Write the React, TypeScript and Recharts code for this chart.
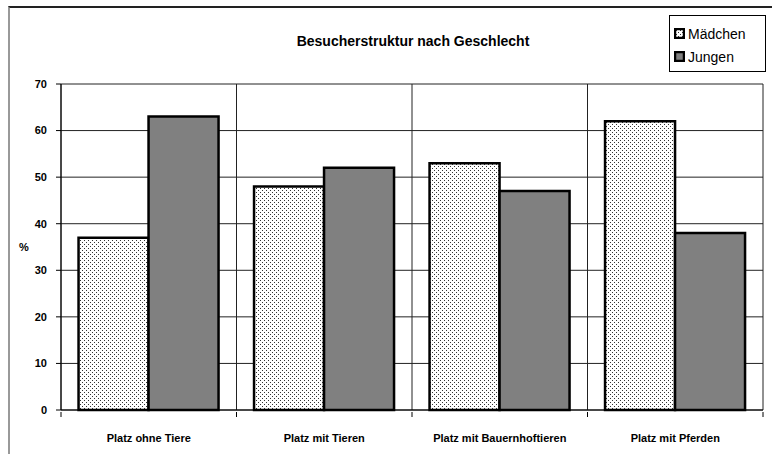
import React from 'react'
import { BarChart, Bar, XAxis, YAxis, CartesianGrid } from 'recharts'

const categories = ['Platz ohne Tiere', 'Platz mit Tieren', 'Platz mit Bauernhoftieren', 'Platz mit Pferden']
const maedchen = [37, 48, 53, 62]
const jungen = [63, 52, 47, 38]
const yTicks = [0, 10, 20, 30, 40, 50, 60, 70]

const data = categories.map((name, i) => ({
  name,
  maedchen: maedchen[i],
  jungen: jungen[i],
}))

const FONT = 'Arial, "Liberation Sans", sans-serif'

// category label plus the small tick marks on the category borders (Excel style)
const CategoryTick = (props: any) => {
  const { x, y, width, payload, index } = props
  const band = width / categories.length
  const left = x - band / 2
  const right = x + band / 2
  return (
    <g>
      <line x1={left} x2={left} y1={y} y2={y + 5} stroke="#000" />
      {index === categories.length - 1 && <line x1={right} x2={right} y1={y} y2={y + 5} stroke="#000" />}
      <text
        x={x}
        y={y + 30}
        textAnchor="middle"
        fontSize={11}
        fontWeight="bold"
        fontFamily={FONT}
        fill="#000"
      >
        {payload.value}
      </text>
    </g>
  )
}

// legend in a little framed box, top right
const LegendBox = () => (
  <div
    style={{
      position: 'absolute',
      left: 669,
      top: 15,
      border: '1px solid #000',
      background: '#fff',
      width: 97,
      height: 57,
      boxSizing: 'border-box',
      fontFamily: FONT,
      fontSize: 14,
      color: '#000',
      padding: '6px 0 0 4px',
    }}
  >
    {[
      { label: 'Mädchen', fill: 'url(#dots)' },
      { label: 'Jungen', fill: '#808080' },
    ].map((item) => (
      <div key={item.label} style={{ display: 'flex', alignItems: 'center', height: 23 }}>
        <svg width={11} height={11} style={{ marginRight: 3 }}>
          <rect x={1} y={1} width={9} height={9} fill={item.fill} stroke="#000" strokeWidth={2.5} />
        </svg>
        <span>{item.label}</span>
      </div>
    ))}
  </div>
)

export default function App() {
  return (
    <div style={{ position: 'absolute', left: 0, top: 0, width: 772, height: 454, overflow: 'hidden', background: '#fff' }}>
      {/* outer chart frame, only top and left are visible */}
      <div
        style={{
          position: 'absolute',
          left: 8,
          top: 6,
          width: 900,
          height: 600,
          borderTop: '2px solid #222',
          borderLeft: '2px solid #999',
        }}
      />
      <div
        style={{
          position: 'absolute',
          left: 0,
          top: 33,
          width: 826,
          textAlign: 'center',
          fontFamily: FONT,
          fontWeight: 'bold',
          fontSize: 14,
          color: '#000',
        }}
      >
        Besucherstruktur nach Geschlecht
      </div>
      <div style={{ position: 'absolute', left: 0, top: 0 }}>
        <BarChart
          width={772}
          height={454}
          data={data}
          margin={{ top: 84, right: 9, bottom: 0, left: 0 }}
          barCategoryGap="10%"
          barGap={0}
        >
          <defs>
            <pattern id="dots" width={4} height={4} patternUnits="userSpaceOnUse">
              <rect width={4} height={4} fill="#fff" />
              <rect x={0} y={0} width={1} height={1} fill="#333" />
              <rect x={2} y={2} width={1} height={1} fill="#333" />
            </pattern>
          </defs>
          <CartesianGrid
            stroke="#222"
            strokeWidth={1}
            verticalCoordinatesGenerator={({ offset }: any) =>
              [0, 1, 2, 3, 4].map((i) => offset.left + (i * offset.width) / categories.length)
            }
          />
          <XAxis
            dataKey="name"
            height={44}
            axisLine={{ stroke: '#000', strokeWidth: 1 }}
            tickLine={false}
            tickSize={0}
            interval={0}
            tick={<CategoryTick />}
          />
          <YAxis
            width={61}
            domain={[0, 70]}
            ticks={yTicks}
            tickSize={5}
            tickMargin={9}
            axisLine={{ stroke: '#000', strokeWidth: 1 }}
            tickLine={{ stroke: '#000' }}
            tick={{ fontSize: 11, fontWeight: 'bold', fill: '#000', fontFamily: FONT }}
            label={{
              value: '%',
              position: 'insideLeft',
              offset: 19,
              style: { fontSize: 11, fontWeight: 'bold', fill: '#000', fontFamily: FONT },
            }}
          />
          <Bar dataKey="maedchen" name="Mädchen" fill="url(#dots)" stroke="#000" strokeWidth={2.5} isAnimationActive={false} />
          <Bar dataKey="jungen" name="Jungen" fill="#808080" stroke="#000" strokeWidth={2.5} isAnimationActive={false} />
        </BarChart>
      </div>
      <LegendBox />
    </div>
  )
}
